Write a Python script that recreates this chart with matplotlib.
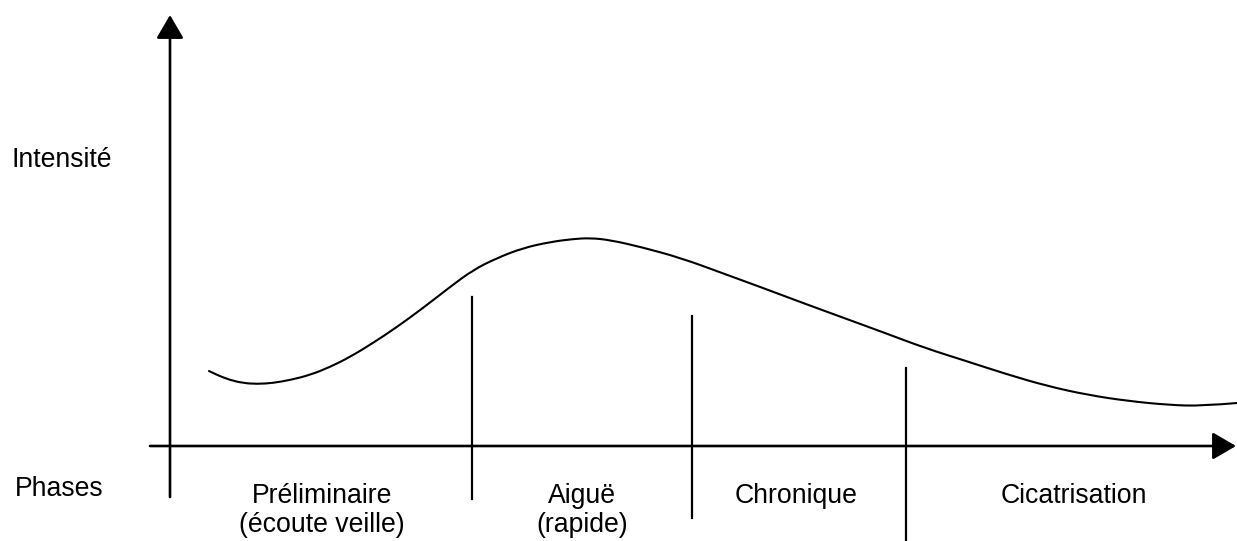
"""Schematic: intensity of a crisis across its phases (hand-drawn style diagram)."""
import matplotlib
matplotlib.use("Agg")
import matplotlib.pyplot as plt
from matplotlib.patches import PathPatch
from matplotlib.path import Path

plt.rcParams["font.family"] = ["Liberation Sans", "DejaVu Sans"]

# curve samples (time, intensity)
time = [39, 47, 60, 73, 87, 103, 120, 140, 160, 180, 203, 227, 253, 280, 303,
        327, 353, 380, 403, 420, 440, 471, 511, 552, 593, 633, 674, 715, 755,
        796, 836, 877, 918, 958, 999, 1032, 1067]
intensity = [75, 71, 66, 63, 62, 63, 66, 71, 79, 89, 103, 119, 138, 159, 176,
             188, 198, 204, 207, 208, 206, 199, 188, 173, 158, 143, 128, 113, 98,
             85, 72, 60, 51, 45, 41, 40, 43]

# phase boundaries and the span of each divider line
boundaries = [302, 522, 736]
boundary_top = [149, 130, 78]
boundary_bottom = [-53, -72, -95]

phase_names = ["Préliminaire", "Aiguë", "Chronique", "Cicatrisation"]
phase_notes = ["(écoute veille)", "(rapide)", "", ""]
phase_centers = [152, 412, 626, 904]

FS = 19.2
LW = 1.9


def smooth_path(xs, ys):
    # quadratic Bezier through segment midpoints, samples act as control points
    pts = list(zip(xs, ys))
    verts = [pts[0]]
    codes = [Path.MOVETO]
    for i in range(1, len(pts) - 1):
        mid = ((pts[i][0] + pts[i + 1][0]) / 2, (pts[i][1] + pts[i + 1][1]) / 2)
        if i == len(pts) - 2:
            mid = pts[-1]
        verts += [pts[i], mid]
        codes += [Path.CURVE3, Path.CURVE3]
    return Path(verts, codes)


fig = plt.figure(figsize=(12.37, 5.41), dpi=100)
ax = fig.add_axes([0, 0, 1, 1])
ax.set_xlim(-170, 1067)
ax.set_ylim(-95, 446)
ax.axis("off")

# axes with arrow heads
arrow = dict(arrowstyle="-|>,head_length=0.72,head_width=0.42",
             mutation_scale=20, color="black", lw=LW, shrinkA=0, shrinkB=0)
ax.annotate("", xy=(0, 431), xytext=(0, -51), arrowprops=arrow)
ax.annotate("", xy=(1066, 0), xytext=(-20, 0), arrowprops=arrow)

ax.add_patch(PathPatch(smooth_path(time, intensity), facecolor="none",
                       edgecolor="black", lw=1.5, capstyle="round"))

for x, top, bot in zip(boundaries, boundary_top, boundary_bottom):
    ax.plot([x, x], [bot, top], color="black", lw=1.6)

for name, note, cx in zip(phase_names, phase_notes, phase_centers):
    ax.text(cx, -57, name, ha="center", va="baseline", fontsize=FS)
    if note:
        ax.text(cx, -86, note, ha="center", va="baseline", fontsize=FS)

ax.text(-158, 279, "Intensité", ha="left", va="baseline", fontsize=FS)
ax.text(-155, -50, "Phases", ha="left", va="baseline", fontsize=FS)

fig.savefig("out.png", dpi=100, facecolor="white")
plt.close(fig)
